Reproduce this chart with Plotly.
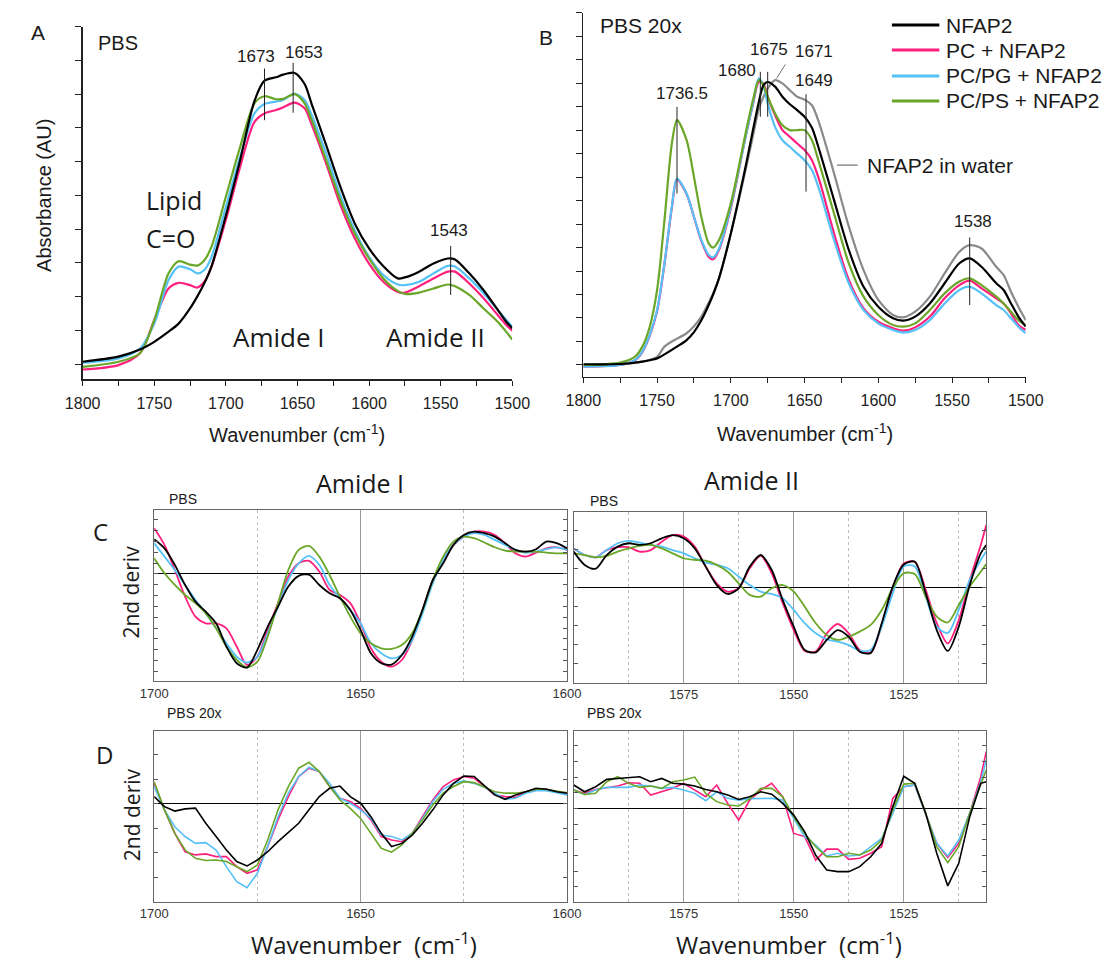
import plotly.graph_objects as go

W, H = 1117, 964
def px(x): return x / W
def py(y): return 1 - y / H

# ---------------- data ----------------
series_names = ["NFAP2", "PC + NFAP2", "PC/PG + NFAP2", "PC/PS + NFAP2"]
water_name = "NFAP2 in water"
series_colors = ["#000000", "#ff1f7d", "#55c1f7", "#6aa628"]
water_color = "#8a8a8a"

# Panel A (PBS) absorbance, tick units
wn_A = [1800, 1775, 1760, 1750, 1740, 1733, 1725, 1720, 1715, 1710, 1700, 1690, 1680, 1673,
        1665, 1660, 1652, 1645, 1640, 1630, 1620, 1610, 1600, 1590, 1580, 1575, 1565, 1555,
        1545, 1540, 1530, 1520, 1510, 1505, 1500]
abs_A_nfap2 = [0.07, 0.22, 0.43, 0.66, 0.96, 1.2, 1.65, 2.0, 2.4, 2.9, 4.4, 6.05, 7.8, 8.4,
               8.5, 8.58, 8.63, 8.3, 7.7, 6.5, 5.25, 4.17, 3.43, 2.9, 2.54, 2.57, 2.74, 2.98,
               3.13, 3.1, 2.69, 2.19, 1.6, 1.3, 1.06]
abs_A_pc = [-0.16, -0.03, 0.32, 1.3, 2.24, 2.41, 2.34, 2.27, 2.44, 2.89, 4.27, 5.85, 7.18, 7.43,
            7.53, 7.61, 7.75, 7.58, 7.09, 5.95, 4.72, 3.73, 2.98, 2.44, 2.14, 2.12, 2.31, 2.54,
            2.74, 2.74, 2.39, 1.95, 1.45, 1.2, 0.99]
abs_A_pcpg = [0.04, 0.17, 0.46, 1.2, 2.49, 2.89, 2.81, 2.69, 2.79, 3.18, 4.66, 6.15, 7.43, 7.71,
              7.78, 7.83, 8.02, 7.83, 7.38, 6.25, 5.0, 3.97, 3.18, 2.64, 2.36, 2.34, 2.44, 2.69,
              2.91, 2.89, 2.54, 2.1, 1.6, 1.35, 1.11]
abs_A_pcps = [-0.08, 0.07, 0.32, 1.3, 2.69, 3.05, 2.95, 2.92, 3.08, 3.48, 4.96, 6.44, 7.73, 7.94,
              7.85, 7.86, 8.0, 7.73, 7.23, 6.05, 4.86, 3.87, 3.13, 2.54, 2.17, 2.08, 2.12, 2.24,
              2.36, 2.31, 2.05, 1.65, 1.25, 1.0, 0.73]

# Panel B (PBS 20x) absorbance, tick units
wn_B = [1800, 1775, 1765, 1760, 1755, 1750, 1745, 1740, 1736.5, 1730, 1725, 1720, 1715, 1712,
        1708, 1700, 1690, 1685, 1681, 1678, 1675, 1670, 1665, 1660, 1655, 1650, 1645, 1640,
        1630, 1620, 1610, 1600, 1590, 1583, 1575, 1565, 1555, 1545, 1538, 1530, 1520, 1515,
        1510, 1505, 1500]
abs_B_nfap2 = [0.03, 0.04, 0.1, 0.14, 0.2, 0.28, 0.45, 0.64, 0.78, 1.06, 1.4, 1.9, 2.55, 3.0,
               3.7, 5.6, 8.44, 10.0, 11.2, 11.9, 12.05, 11.85, 11.42, 11.1, 10.85, 10.57, 10.1, 9.15,
               7.02, 4.9, 3.33, 2.48, 1.99, 1.89, 2.06, 2.62, 3.48, 4.33, 4.54, 4.18, 3.48, 3.19,
               2.62, 2.06, 1.63]
abs_B_pc = [-0.07, 0.0, 0.2, 0.55, 1.25, 2.3, 4.3, 6.7, 7.9, 7.28, 6.3, 5.28, 4.6, 4.5,
            4.9, 6.67, 9.72, 11.1, 12.06, 11.99, 11.42, 10.64, 10.0, 9.72, 9.43, 9.15, 8.72, 7.87,
            5.6, 3.62, 2.41, 1.84, 1.56, 1.46, 1.6, 2.06, 2.84, 3.4, 3.59, 3.26, 2.84, 2.62,
            2.2, 1.7, 1.49]
abs_B_pcpg = [-0.07, 0.0, 0.21, 0.57, 1.28, 2.34, 4.33, 6.74, 7.94, 7.3, 6.31, 5.32, 4.68, 4.58,
              4.96, 6.74, 9.72, 11.13, 12.2, 11.91, 11.13, 10.14, 9.57, 9.29, 9.0, 8.72, 8.3, 7.45,
              5.32, 3.48, 2.34, 1.77, 1.49, 1.38, 1.49, 1.91, 2.62, 3.19, 3.33, 3.05, 2.55, 2.34,
              1.99, 1.63, 1.35]
abs_B_pcps = [0.0, 0.1, 0.35, 0.78, 1.63, 3.19, 6.17, 9.43, 10.43, 9.57, 8.01, 6.31, 5.18, 5.0,
              5.32, 6.88, 9.86, 11.28, 12.13, 11.91, 11.42, 10.71, 10.21, 10.0, 10.0, 10.0, 9.57, 8.58,
              6.45, 4.33, 2.91, 2.13, 1.7, 1.63, 1.77, 2.34, 3.05, 3.55, 3.69, 3.4, 2.91, 2.62,
              2.27, 1.91, 1.7]
abs_B_water = [0.0, 0.03, 0.1, 0.14, 0.22, 0.35, 0.78, 1.0, 1.12, 1.35, 1.65, 2.06, 2.65, 3.05,
               3.7, 5.6, 8.3, 9.75, 10.9, 11.4, 11.77, 12.13, 11.99, 11.7, 11.42, 11.3, 11.06, 10.28,
               8.16, 5.9, 4.04, 2.77, 2.13, 2.03, 2.27, 2.91, 3.9, 4.82, 5.1, 4.96, 4.18, 3.83,
               3.12, 2.48, 1.91]

# Second derivative, Amide I region
wn_I = [1700, 1697.5, 1695, 1692.5, 1690, 1687.5, 1685, 1682.5, 1680, 1677.5, 1675, 1672.5, 1670,
        1667.5, 1665, 1662.5, 1660, 1657.5, 1655, 1652.5, 1650, 1647.5, 1645, 1642.5, 1640, 1637.5,
        1635, 1632.5, 1630, 1627.5, 1625, 1622.5, 1620, 1617.5, 1615, 1612.5, 1610, 1607.5, 1605,
        1602.5, 1600]
d2_C_I_nfap2 = [1.6, 1.18, 0.42, -0.51, -1.28, -1.74, -2.28, -3.35, -4.12, -4.32, -3.5, -2.43, -1.51,
                -0.58, -0.09, -0.03, -0.51, -0.89, -1.12, -1.66, -2.58, -3.66, -4.12, -4.18, -3.74, -2.89,
                -1.66, -0.28, 0.49, 1.34, 1.8, 1.95, 1.88, 1.72, 1.42, 1.11, 1.03, 1.14, 1.49, 1.42, 1.18]
d2_C_I_pc = [2.11, 1.34, 0.18, -1.05, -1.97, -2.28, -2.28, -2.51, -3.35, -4.2, -3.82, -2.58, -1.35,
             -0.12, 0.49, 0.6, 0.11, -0.74, -0.97, -1.35, -2.28, -3.43, -4.05, -4.28, -3.97, -3.05,
             -1.66, -0.28, 0.65, 1.34, 1.72, 1.95, 1.95, 1.8, 1.42, 0.95, 0.8, 0.98, 1.18, 1.23, 1.11]
d2_C_I_pcpg = [1.42, 0.8, 0.18, -0.51, -1.2, -1.82, -2.51, -3.2, -3.82, -4.09, -3.82, -2.74, -1.51,
               -0.28, 0.49, 0.83, 0.42, -0.51, -1.12, -1.66, -2.28, -3.2, -3.66, -3.89, -3.74, -3.05,
               -1.82, -0.43, 0.65, 1.34, 1.72, 1.88, 1.8, 1.57, 1.34, 1.11, 0.98, 1.03, 1.14, 1.23, 1.11]
d2_C_I_pcps = [0.72, 0.03, -0.51, -0.97, -1.35, -1.82, -2.51, -3.35, -3.97, -4.31, -4.05, -2.89, -1.35,
               0.18, 1.11, 1.29, 0.8, -0.05, -1.05, -1.97, -2.74, -3.2, -3.43, -3.46, -3.28, -2.74,
               -1.66, -0.28, 0.8, 1.49, 1.72, 1.65, 1.45, 1.23, 1.08, 1.03, 1.03, 1.03, 0.98, 0.95, 0.95]
d2_D_I_nfap2 = [0.3, -0.11, -0.29, -0.2, -0.17, -0.79, -1.33, -1.88, -2.35, -2.53, -2.29, -1.95, -1.54,
                -1.17, -0.79, -0.24, 0.3, 0.64, 0.73, 0.3, 0.03, -0.52, -1.2, -1.74, -1.61, -1.27,
                -0.79, -0.24, 0.37, 0.84, 1.14, 1.12, 0.73, 0.37, 0.19, 0.37, 0.5, 0.64, 0.6, 0.5, 0.44]
d2_D_I_pc = [0.84, -0.24, -1.2, -1.95, -2.08, -2.04, -2.15, -2.15, -2.56, -2.83, -2.69, -1.74, -0.65,
             0.3, 1.12, 1.46, 1.32, 0.71, 0.23, 0.1, -0.18, -0.65, -1.33, -1.47, -1.54, -1.2,
             -0.52, 0.16, 0.71, 0.98, 1.12, 1.05, 0.71, 0.37, 0.3, 0.27, 0.5, 0.57, 0.6, 0.5, 0.46]
d2_D_I_pcpg = [0.71, -0.24, -0.93, -1.33, -1.61, -1.58, -1.88, -2.56, -3.17, -3.42, -2.83, -1.74, -0.52,
               0.44, 1.12, 1.5, 1.32, 0.84, 0.23, 0.03, -0.24, -0.59, -1.27, -1.33, -1.47, -1.2,
               -0.59, 0.1, 0.6, 0.84, 0.94, 0.84, 0.68, 0.44, 0.19, 0.23, 0.44, 0.54, 0.54, 0.46, 0.37]
d2_D_I_pcps = [0.91, -0.24, -1.2, -1.88, -2.22, -2.31, -2.29, -2.35, -2.56, -2.76, -2.49, -1.47, -0.24,
               0.71, 1.46, 1.7, 1.32, 0.71, 0.16, -0.18, -0.59, -1.2, -1.81, -1.97, -1.67, -1.2,
               -0.65, -0.04, 0.44, 0.71, 0.91, 0.87, 0.68, 0.5, 0.44, 0.44, 0.5, 0.6, 0.6, 0.54, 0.46]

# Second derivative, Amide II region
wn_II = [1600, 1597.5, 1595, 1592.5, 1590, 1587.5, 1585, 1582.5, 1580, 1577.5, 1575, 1572.5, 1570,
         1567.5, 1565, 1562.5, 1560, 1557.5, 1555, 1552.5, 1550, 1547.5, 1545, 1542.5, 1540, 1537.5,
         1535, 1532.5, 1530, 1527.5, 1525, 1522.5, 1520, 1517.5, 1515, 1512.5, 1510, 1507.5, 1506.25]
d2_C_II_nfap2 = [1.88, 1.18, 0.98, 1.7, 2.14, 2.32, 2.23, 2.32, 2.58, 2.75, 2.58, 2.05, 1.09,
                 0.12, -0.35, -0.05, 1.09, 1.7, 0.91, -0.67, -2.07, -3.3, -3.42, -2.77, -2.25, -2.6,
                 -3.39, -3.45, -1.89, 0.04, 1.2, 1.35, -0.32, -2.25, -3.35, -2.07, 0.12, 1.79, 2.23]
d2_C_II_pc = [2.05, 1.7, 1.58, 1.96, 2.11, 2.11, 1.88, 1.96, 2.4, 2.75, 2.67, 2.14, 1.09,
              0.21, -0.23, -0.05, 1.0, 1.65, 0.74, -0.84, -2.25, -3.35, -3.38, -2.42, -1.93, -2.42,
              -3.3, -3.45, -1.98, -0.05, 1.25, 1.35, -0.14, -1.89, -2.95, -1.72, 0.39, 2.23, 3.28]
d2_C_II_pcpg = [2.05, 1.7, 1.58, 1.96, 2.32, 2.44, 2.35, 2.23, 2.14, 1.96, 1.79, 1.53, 1.3,
                1.18, 1.0, 0.56, 0.12, -0.23, -0.35, -0.58, -1.19, -1.89, -2.42, -2.74, -2.86, -3.04,
                -3.33, -3.3, -2.07, -0.32, 1.1, 1.1, -0.49, -2.07, -2.4, -1.19, 0.39, 1.44, 1.88]
d2_C_II_pcps = [1.79, 1.7, 1.58, 1.65, 1.88, 2.05, 2.18, 2.23, 2.05, 1.79, 1.53, 1.44, 1.4,
                1.18, 0.82, 0.21, -0.4, -0.49, -0.05, 0.12, -0.23, -1.02, -1.89, -2.51, -2.77, -2.6,
                -2.33, -1.98, -1.19, -0.05, 0.74, 0.7, -0.49, -1.54, -1.85, -0.93, 0.04, 0.82, 1.23]
d2_D_II_nfap2 = [1.49, 1.06, 1.38, 1.85, 1.91, 1.98, 2.02, 1.7, 1.91, 1.6, 1.55, 1.43, 1.21,
                 1.06, 0.85, 0.57, 0.74, 1.06, 0.91, 0.32, -0.43, -1.5, -3.0, -3.94, -4.04, -4.04,
                 -3.72, -3.09, -2.23, 0.11, 2.05, 1.6, -0.32, -2.87, -4.95, -3.51, -0.53, 1.6, 1.7]
d2_D_II_pc = [1.17, 0.96, 1.21, 1.34, 1.43, 1.64, 1.6, 0.85, 1.06, 1.28, 1.6, 1.17, 0.74,
              1.49, 0.32, -0.75, 0.53, 1.17, 1.6, 0.74, -1.6, -1.8, -3.3, -2.6, -2.6, -3.26,
              -3.19, -2.87, -2.45, 0.64, 1.38, 1.49, -0.32, -2.23, -3.13, -2.23, -0.32, 2.02, 3.62]
d2_D_II_pcpg = [1.17, 0.89, 1.17, 1.34, 1.34, 1.34, 1.49, 1.43, 1.28, 1.34, 1.17, 0.96, 0.49,
                1.06, 0.64, 0.53, 0.62, 0.64, 0.64, 0.53, -0.64, -1.81, -2.34, -3.04, -2.87, -3.04,
                -2.98, -2.45, -1.91, -0.32, 1.38, 1.5, -0.32, -2.23, -3.04, -2.02, -0.32, 1.7, 3.09]
d2_D_II_pcps = [1.17, 0.89, 0.96, 1.7, 2.02, 1.6, 1.34, 1.43, 1.28, 1.7, 1.81, 2.0, 0.96,
                0.43, 0.21, 0.15, 0.6, 1.28, 1.28, 0.74, -0.53, -1.6, -2.45, -3.09, -3.09, -2.87,
                -2.98, -2.66, -2.02, -0.11, 1.55, 1.6, -0.32, -2.45, -3.47, -2.45, -0.32, 1.6, 2.45]

# peak marker lines: (wavenumber, y_low, y_high) and labels (text, wavenumber, y)
peaks_A = [(1673, 7.23, 8.76), (1653, 7.45, 8.93), (1543, 2.05, 3.5)]
peak_labels_A = [("1673", 1678.6, 9.11), ("1653", 1645.1, 9.23), ("1543", 1544.4, 3.97)]
peaks_B = [(1736.5, 7.3, 10.99), (1680, 10.57, 12.48), (1675, 10.57, 12.48),
           (1649, 7.38, 11.53), (1538, 2.55, 5.43)]
peak_labels_B = [("1736.5", 1733.0, 11.57), ("1680", 1695.7, 12.55), ("1675", 1674.4, 13.43),
                 ("1671", 1643.3, 13.33), ("1649", 1643.3, 12.13), ("1538", 1535.6, 6.1)]

# ---------------- figure ----------------
fig = go.Figure()
ARIAL = "Liberation Sans, Arial, sans-serif"
CAL = "Open Sans, Lato, sans-serif"
draw_order = [1, 2, 3, 0]

def add_set(x, ys, xa, ya, width, shape):
    for i in draw_order:
        fig.add_trace(go.Scatter(x=x, y=ys[i], mode="lines", name=series_names[i],
                                 line=dict(color=series_colors[i], width=width, shape=shape, smoothing=0.8),
                                 xaxis=xa, yaxis=ya, showlegend=False, hoverinfo="skip"))

fig.add_trace(go.Scatter(x=wn_B, y=abs_B_water, mode="lines", name=water_name,
                         line=dict(color=water_color, width=2.2, shape="spline", smoothing=0.8),
                         xaxis="x2", yaxis="y2", showlegend=False, hoverinfo="skip"))
add_set(wn_A, [abs_A_nfap2, abs_A_pc, abs_A_pcpg, abs_A_pcps], "x", "y", 2.2, "spline")
add_set(wn_B, [abs_B_nfap2, abs_B_pc, abs_B_pcpg, abs_B_pcps], "x2", "y2", 2.2, "spline")
add_set(wn_I, [d2_C_I_nfap2, d2_C_I_pc, d2_C_I_pcpg, d2_C_I_pcps], "x3", "y3", 1.8, "spline")
add_set(wn_II, [d2_C_II_nfap2, d2_C_II_pc, d2_C_II_pcpg, d2_C_II_pcps], "x4", "y4", 1.8, "spline")
add_set(wn_I, [d2_D_I_nfap2, d2_D_I_pc, d2_D_I_pcpg, d2_D_I_pcps], "x5", "y5", 1.6, "linear")
add_set(wn_II, [d2_D_II_nfap2, d2_D_II_pc, d2_D_II_pcpg, d2_D_II_pcps], "x6", "y6", 1.6, "linear")

def abs_xaxis(dom, anchor):
    return dict(domain=dom, anchor=anchor, range=[1800, 1500], autorange=False,
                tick0=1500, dtick=50, ticks="outside", ticklen=5, tickwidth=1, tickcolor="#222",
                showline=True, linecolor="#222", linewidth=1.5, showgrid=False, zeroline=False,
                tickfont=dict(family=ARIAL, size=16, color="#222"), ticklabelstandoff=4,
                minor=dict(dtick=25, tick0=1500, ticks="outside", ticklen=5, tickcolor="#222", showgrid=False))

def abs_yaxis(dom, anchor, rng):
    return dict(domain=dom, anchor=anchor, range=rng, autorange=False, tick0=0, dtick=1,
                ticks="outside", ticklen=6, tickcolor="#222", showticklabels=False,
                showline=True, linecolor="#222", linewidth=1.5, showgrid=False, zeroline=False)

def d2_xaxis(dom, anchor, rng, tv, minor_tv):
    return dict(domain=dom, anchor=anchor, range=rng, autorange=False, tickvals=tv,
                ticks="", showgrid=True, gridcolor="#9a9a9a", gridwidth=1,
                showline=True, mirror=True, linecolor="#666", linewidth=1, zeroline=False,
                tickfont=dict(family=ARIAL, size=13, color="#333"),
                minor=dict(tickvals=minor_tv, showgrid=True, griddash="dot", gridcolor="#bdbdbd", gridwidth=1))

def d2_yaxis(dom, anchor, rng, dt):
    return dict(domain=dom, anchor=anchor, range=rng, autorange=False, tick0=0, dtick=dt,
                ticks="inside", ticklen=4, tickcolor="#555", showticklabels=False,
                showline=True, mirror="ticks", linecolor="#666", linewidth=1, showgrid=False,
                zeroline=True, zerolinecolor="#000", zerolinewidth=1)

xA = [px(66.8), px(510.7)]; yA = [py(379.3), py(26.7)]
xB = [px(584.2), px(1041.3)]; yB = [py(376.7), py(12.7)]
xL = [px(140.7), px(567.3)]; xR = [px(574.2), px(1000.5)]
yC = [py(681.0), py(510.0)]; yCR = [py(682.7), py(511.7)]
yD = [py(901.7), py(730.7)]

fig.update_layout(
    width=W, height=H, margin=dict(l=0, r=0, t=0, b=0), autosize=False,
    paper_bgcolor="white", plot_bgcolor="rgba(0,0,0,0)", showlegend=False,
    xaxis=abs_xaxis(xA, "y"), yaxis=abs_yaxis(yA, "x", [-0.45, 10]),
    xaxis2=abs_xaxis(xB, "y2"), yaxis2=abs_yaxis(yB, "x2", [-0.5, 15]),
    xaxis3=d2_xaxis(xL, "y3", [1700, 1600], [1700, 1650, 1600], [1675, 1625]),
    yaxis3=d2_yaxis(yC, "x3", [-4.94, 2.95], 0.5),
    xaxis4=d2_xaxis(xR, "y4", [1600, 1506.25], [1575, 1550, 1525], [1587.5, 1562.5, 1537.5, 1512.5]),
    yaxis4=d2_yaxis(yCR, "x4", [-5.02, 3.98], 1),
    xaxis5=d2_xaxis(xL, "y5", [1700, 1600], [1700, 1650, 1600], [1675, 1625]),
    yaxis5=d2_yaxis(yD, "x5", [-3.99, 2.99], 1),
    xaxis6=d2_xaxis(xR, "y6", [1600, 1506.25], [1575, 1550, 1525], [1587.5, 1562.5, 1537.5, 1512.5]),
    yaxis6=d2_yaxis(yD, "x6", [-5.96, 4.96], 1),
)

shapes = []
for wn, lo, hi in peaks_A:
    shapes.append(dict(type="line", xref="x", yref="y", x0=wn, x1=wn, y0=lo, y1=hi,
                       line=dict(color="#222", width=1)))
for wn, lo, hi in peaks_B:
    shapes.append(dict(type="line", xref="x2", yref="y2", x0=wn, x1=wn, y0=lo, y1=hi,
                       line=dict(color="#222", width=1)))
# leader lines in B
shapes.append(dict(type="line", xref="x2", yref="y2", x0=1663, x1=1669, y0=12.8, y1=12.2,
                   line=dict(color="#777", width=1)))
shapes.append(dict(type="line", xref="x2", yref="y2", x0=1628, x1=1614, y0=8.51, y1=8.51,
                   line=dict(color="#777", width=1.2)))
# manual legend
legend_rows = [25, 50, 76, 101]
for i, yy in enumerate(legend_rows):
    shapes.append(dict(type="line", xref="paper", yref="paper", x0=px(903), x1=px(952),
                       y0=py(yy), y1=py(yy), line=dict(color=series_colors[i], width=2.8)))
fig.update_layout(shapes=shapes)

ann = []
def text(s, x, y, size, family=ARIAL, xanchor="center", angle=0, color="#1a1a1a",
         xref="paper", yref="paper", yanchor="middle"):
    if xref == "paper":
        x, y = px(x), py(y)
    ann.append(dict(text=s, x=x, y=y, xref=xref, yref=yref, xanchor=xanchor, yanchor=yanchor,
                    showarrow=False, textangle=angle, font=dict(family=family, size=size, color=color)))

# panel letters
text("A", 20.5, 33, 21)
text("B", 546, 38, 21)
text("C", 85, 531.7, 24, CAL)
text("D", 89, 754, 24, CAL)
# panel A/B texts
text("PBS", 103.6, 43.3, 20)
text("PBS 20x", 644, 25, 21)
text("Lipid", 130, 200, 25, CAL, xanchor="left")
text("C=O", 130, 238, 25, CAL, xanchor="left")
text("Amide I", 270, 337, 26, CAL)
text("Amide II", 431, 337, 26, CAL)
for s, xw, yv in peak_labels_A:
    text(s, xw, yv, 17, xref="x", yref="y")
for s, xw, yv in peak_labels_B:
    text(s, xw, yv, 17, xref="x2", yref="y2")
text(water_name, 1609.2, 8.51, 21, xanchor="left", xref="x2", yref="y2")
text("Wavenumber (cm<sup>-1</sup>)", 288.8, 434, 20)
text("Wavenumber (cm<sup>-1</sup>)", 812.7, 433, 20)
text("Absorbance (AU)", 26.8, 195, 20, angle=-90)
for i, yy in enumerate(legend_rows):
    text(series_names[i], 957, yy, 21, xanchor="left")
# panels C/D texts
text("Amide I", 353.3, 483.3, 25, CAL)
text("Amide II", 758, 480, 25, CAL)
text("PBS", 171, 499.3, 14)
text("PBS", 605, 500.7, 14)
text("PBS 20x", 182, 713.3, 14)
text("PBS 20x", 615.5, 712.7, 14)
text("2nd deriv", 115.8, 592.5, 21, CAL, angle=-90)
text("2nd deriv", 118, 815, 21, CAL, angle=-90)
text("Wavenumber  (cm<sup>-1</sup>)", 357.5, 963, 24, CAL, yanchor="bottom")
text("Wavenumber  (cm<sup>-1</sup>)", 797, 963, 24, CAL, yanchor="bottom")
fig.update_layout(annotations=ann)

fig.write_html("out.html", config={"displayModeBar": False, "staticPlot": True},
               post_script="document.body.style.margin='0';")
